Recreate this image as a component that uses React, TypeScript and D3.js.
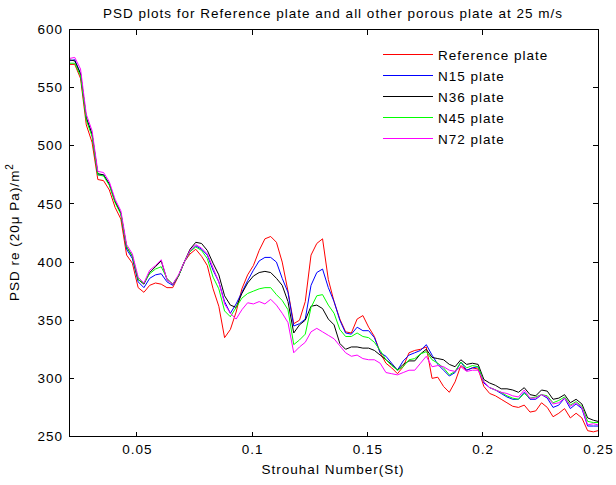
import React from "react";
import * as d3 from "d3";

// Strouhal number grid shared by all spectra
const strouhal = [
  0.0205, 0.023, 0.0255, 0.028, 0.0305, 0.033, 0.0355, 0.038, 0.0405, 0.043,
  0.0455, 0.048, 0.0505, 0.053, 0.0555, 0.058, 0.0605, 0.063, 0.0655, 0.068,
  0.0705, 0.073, 0.0755, 0.078, 0.0805, 0.083, 0.0855, 0.088, 0.0905, 0.093,
  0.0955, 0.098, 0.1005, 0.103, 0.1055, 0.108, 0.1105, 0.113, 0.1155, 0.118,
  0.1205, 0.123, 0.1255, 0.128, 0.1305, 0.133, 0.1355, 0.138, 0.1405, 0.143,
  0.1455, 0.148, 0.1505, 0.153, 0.1555, 0.158, 0.1605, 0.163, 0.1655, 0.168,
  0.1705, 0.173, 0.1755, 0.178, 0.1805, 0.183, 0.1855, 0.188, 0.1905, 0.193,
  0.1955, 0.198, 0.2005, 0.203, 0.2055, 0.208, 0.2105, 0.213, 0.2155, 0.218,
  0.2205, 0.223, 0.2255, 0.228, 0.2305, 0.233, 0.2355, 0.238, 0.2405, 0.243,
  0.2455, 0.248, 0.25,
];

const referencePlate = [
  570, 570, 558, 518, 503, 471, 470, 462, 447, 437,
  406, 399, 378, 374, 380, 382, 381, 378, 378, 388,
  400, 407, 411, 405, 397, 377, 362, 335, 342, 357,
  377, 389, 397, 410, 420, 422, 417, 400, 375, 347,
  350, 366, 406, 416, 420, 385, 366, 351, 340, 339,
  351, 354, 344, 336, 322, 313, 309, 304, 310, 322,
  324, 325, 327, 300, 301, 293, 288, 297, 311, 307,
  309, 308, 293, 287, 285, 282, 279, 276, 275, 277,
  271, 272, 279, 275, 267, 270, 274, 266, 270, 266,
  255, 254, 255,
];

const n15Plate = [
  573, 574, 562, 524, 510, 475, 475, 467, 452, 442,
  411, 403, 383, 378, 386, 389, 390, 383, 380, 388,
  400, 409, 414, 411, 406, 393, 383, 366, 356, 364,
  374, 384, 393, 401, 404, 404, 400, 386, 374, 345,
  347, 351, 380, 391, 394, 378, 366, 350, 339, 338,
  344, 341, 341, 335, 322, 319, 313, 307, 315, 320,
  322, 324, 329, 320, 312, 307, 302, 305, 314, 307,
  309, 310, 296, 292, 290, 287, 284, 282, 282, 288,
  282, 282, 286, 283, 275, 277, 283, 274, 278, 274,
  259, 259, 259,
];

const n36Plate = [
  574, 573, 562, 524, 510, 476, 475, 467, 452, 442,
  413, 405, 385, 381, 391, 396, 401, 385, 381, 388,
  400, 411, 417, 416, 410, 399, 389, 371, 363, 361,
  373, 382, 388, 391, 392, 391, 386, 380, 366, 339,
  346, 350, 362, 363, 360, 351, 346, 330, 325, 327,
  327, 326, 326, 324, 320, 316, 312, 307, 312, 315,
  315, 321, 325, 318, 317, 316, 312, 310, 316, 312,
  313, 312, 299, 296, 294, 291, 291, 290, 288, 292,
  286, 285, 290, 289, 282, 283, 286, 279, 282, 278,
  266, 264, 263,
];

const n45Plate = [
  571, 571, 560, 522, 508, 475, 474, 466, 451, 441,
  413, 405, 385, 382, 390, 394, 396, 386, 381, 388,
  400, 409, 413, 410, 403, 387, 377, 358, 353, 361,
  369, 373, 375, 377, 378, 378, 372, 367, 359, 329,
  333, 338, 361, 371, 372, 363, 356, 342, 336, 336,
  339, 336, 335, 331, 324, 316, 311, 307, 310, 316,
  317, 321, 323, 316, 313, 309, 303, 306, 314, 309,
  311, 310, 297, 292, 290, 288, 285, 283, 282, 287,
  283, 284, 286, 285, 279, 281, 284, 277, 280, 276,
  263, 262, 262,
];

const n72Plate = [
  575, 576, 566, 527, 513, 478, 477, 469, 454, 444,
  415, 407, 387, 382, 393, 397, 402, 385, 381, 389,
  400, 410, 415, 412, 407, 395, 383, 364, 356, 351,
  359, 365, 364, 366, 364, 368, 363, 356, 348, 322,
  327, 331, 340, 343, 340, 337, 334, 328, 322, 319,
  320, 317, 316, 316, 313, 305, 304, 303, 305, 307,
  307, 313, 319, 310, 311, 310, 307, 306, 310, 306,
  307, 307, 297, 292, 290, 288, 287, 285, 284, 290,
  283, 283, 286, 284, 278, 279, 283, 276, 279, 275,
  260, 261, 260,
];

const seriesNames = ["Reference plate", "N15 plate", "N36 plate", "N45 plate", "N72 plate"];
const seriesValues = [referencePlate, n15Plate, n36Plate, n45Plate, n72Plate];
const seriesColors = ["#ff0000", "#0000ff", "#000000", "#00ff00", "#ff00ff"];

const xTicks = [0.05, 0.1, 0.15, 0.2, 0.25];
const xTickLabels = ["0.05", "0.1", "0.15", "0.2", "0.25"];
const yTicks = [250, 300, 350, 400, 450, 500, 550, 600];

const titleText = "PSD plots for Reference plate and all other porous plate at 25 m/s";
const xLabelText = "Strouhal Number(St)";

const W = 616;
const H = 485;
const plot = { left: 69, right: 598, top: 29.5, bottom: 436.5 };
const font = { fontFamily: "'Liberation Sans', Arial, sans-serif", fontSize: 13.5, letterSpacing: 1 };

export default function App() {
  const x = d3.scaleLinear().domain([0.0205, 0.25]).range([plot.left, plot.right]);
  const y = d3.scaleLinear().domain([250, 600]).range([plot.bottom, plot.top]);

  const line = d3
    .line<number>()
    .x((_, i) => x(strouhal[i]))
    .y((d) => y(d));

  const tickLen = 5;

  return (
    <svg
      width={W}
      height={H}
      style={{ position: "absolute", left: 0, top: 0, background: "#fff" }}
    >
      <rect x={0} y={0} width={W} height={H} fill="#fff" />

      {/* data lines */}
      <g fill="none" strokeWidth={1} strokeLinejoin="round">
        {seriesValues.map((vals, k) => (
          <path key={seriesNames[k]} d={line(vals) || ""} stroke={seriesColors[k]} />
        ))}
      </g>

      {/* axes box with inward ticks on all sides */}
      <g stroke="#000" strokeWidth={1} shapeRendering="crispEdges">
        <rect
          x={plot.left}
          y={plot.top}
          width={plot.right - plot.left}
          height={plot.bottom - plot.top}
          fill="none"
        />
        {xTicks.map((t) => (
          <g key={"xt" + t}>
            <line x1={x(t)} x2={x(t)} y1={plot.bottom} y2={plot.bottom - tickLen} />
            <line x1={x(t)} x2={x(t)} y1={plot.top} y2={plot.top + tickLen} />
          </g>
        ))}
        {yTicks.map((t) => (
          <g key={"yt" + t}>
            <line x1={plot.left} x2={plot.left + tickLen} y1={y(t)} y2={y(t)} />
            <line x1={plot.right} x2={plot.right - tickLen} y1={y(t)} y2={y(t)} />
          </g>
        ))}
      </g>

      <g {...font} fill="#000">
        {xTicks.map((t, i) => (
          <text key={"xl" + t} x={x(t) + 0.5} y={453.5} textAnchor="middle">
            {xTickLabels[i]}
          </text>
        ))}
        {yTicks.map((t) => (
          <text key={"yl" + t} x={63} y={y(t) + 4.7} textAnchor="end">
            {t}
          </text>
        ))}

        <text x={333} y={18} textAnchor="middle">
          {titleText}
        </text>
        <text x={333} y={474} textAnchor="middle">
          {xLabelText}
        </text>
        <text transform="translate(19,232) rotate(-90)" textAnchor="middle">
          PSD re (20μ Pa)/m
          <tspan dy={-6} fontSize={10}>
            2
          </tspan>
        </text>

        {/* legend */}
        {seriesNames.map((name, k) => {
          const cy = 54.5 + k * 21;
          return (
            <g key={"lg" + name}>
              <line x1={383} x2={433} y1={cy} y2={cy} stroke={seriesColors[k]} strokeWidth={1} />
              <text x={438} y={cy + 5}>
                {name}
              </text>
            </g>
          );
        })}
      </g>
    </svg>
  );
}
